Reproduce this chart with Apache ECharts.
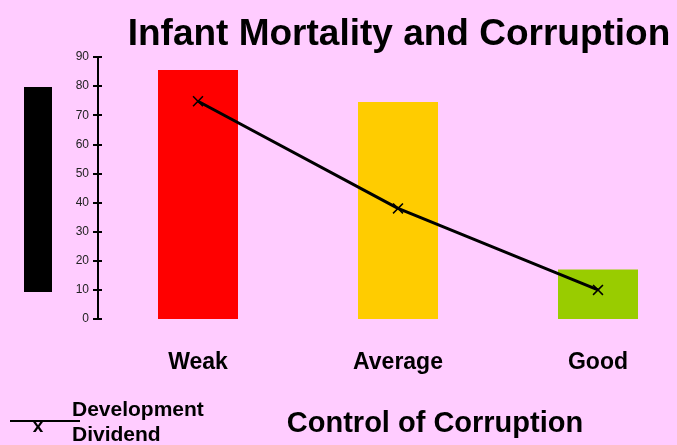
<!DOCTYPE html>
<html>
<head>
<meta charset="utf-8">
<script src="https://cdn.jsdelivr.net/npm/echarts@6/dist/echarts.min.js"></script>
<style>
  html, body { margin: 0; padding: 0; background: #ffccff; }
  #chart { width: 677px; height: 445px; }
</style>
</head>
<body>
<div id="chart"></div>
<script>
const categories = ['Weak', 'Average', 'Good'];
const barValues = [85.5, 74.5, 17];
const barColors = ['#ff0000', '#ffcc00', '#99cc00'];
const dividend = [74.8, 38, 10];
const yTicks = { min: 0, max: 90, interval: 10 };

// filled "x" shape for the line markers
const crossPath = 'path://M0,1L1,0L5,4L9,0L10,1L6,5L10,9L9,10L5,6L1,10L0,9L4,5Z';

let chart = echarts.init(document.getElementById('chart'));
let option = {
    backgroundColor: '#ffccff',
    animation: false,
    textStyle: { fontFamily: 'Liberation Sans, Arial, sans-serif' },
    title: {
        text: 'Infant Mortality and Corruption',
        left: 394,
        top: 11,
        textAlign: 'center',
        textStyle: { fontSize: 37, fontWeight: 'bold', color: '#000' }
    },
    // category centres sit at the grid edges, y axis pushed back out by offset
    grid: { left: 198, top: 57, width: 400, height: 262 },
    xAxis: {
        type: 'category',
        boundaryGap: false,
        data: categories,
        axisLine: { show: false },
        axisTick: { show: false },
        axisLabel: { margin: 32, fontSize: 23, fontWeight: 'bold', color: '#000' }
    },
    yAxis: [
        {
            type: 'value',
            min: yTicks.min, max: yTicks.max, interval: yTicks.interval,
            offset: 100,
            splitLine: { show: false },
            axisLine: { show: true, lineStyle: { color: '#000', width: 2 } },
            axisTick: { show: true, length: 5, lineStyle: { color: '#000', width: 2 } },
            axisLabel: { fontSize: 12, color: '#222', margin: 9 }
        },
        {
            type: 'value',
            position: 'left',
            min: yTicks.min, max: yTicks.max, interval: yTicks.interval,
            offset: 100,
            splitLine: { show: false },
            axisLine: { show: false },
            axisTick: { show: true, inside: true, length: 4, lineStyle: { color: '#000', width: 2 } },
            axisLabel: { show: false }
        }
    ],
    graphic: [
        { type: 'rect', shape: { x: 24, y: 87, width: 28, height: 205 }, style: { fill: '#000' } },
        { type: 'line', shape: { x1: 10, y1: 421, x2: 80, y2: 421 }, style: { stroke: '#000', lineWidth: 2 } },
        { type: 'text', x: 38, y: 427, style: { text: 'x', fill: '#000', font: 'bold 19px Liberation Sans', textAlign: 'center', textVerticalAlign: 'middle' } },
        { type: 'text', x: 72, y: 410, style: { text: 'Development', fill: '#000', font: 'bold 21px Liberation Sans', textVerticalAlign: 'middle' } },
        { type: 'text', x: 72, y: 435, style: { text: 'Dividend', fill: '#000', font: 'bold 21px Liberation Sans', textVerticalAlign: 'middle' } },
        { type: 'text', x: 435, y: 424, style: { text: 'Control of Corruption', fill: '#000', font: 'bold 29px Liberation Sans', textAlign: 'center', textVerticalAlign: 'middle' } }
    ],
    series: [
        {
            name: 'Infant Mortality',
            type: 'bar',
            barWidth: 80,
            data: barValues.map((v, i) => ({ value: v, itemStyle: { color: barColors[i] } }))
        },
        {
            name: 'Development Dividend',
            type: 'line',
            data: dividend,
            symbol: crossPath,
            symbolSize: 11,
            itemStyle: { color: '#000' },
            lineStyle: { color: '#000', width: 3 }
        }
    ]
};
chart.setOption(option);
</script>
</body>
</html>
